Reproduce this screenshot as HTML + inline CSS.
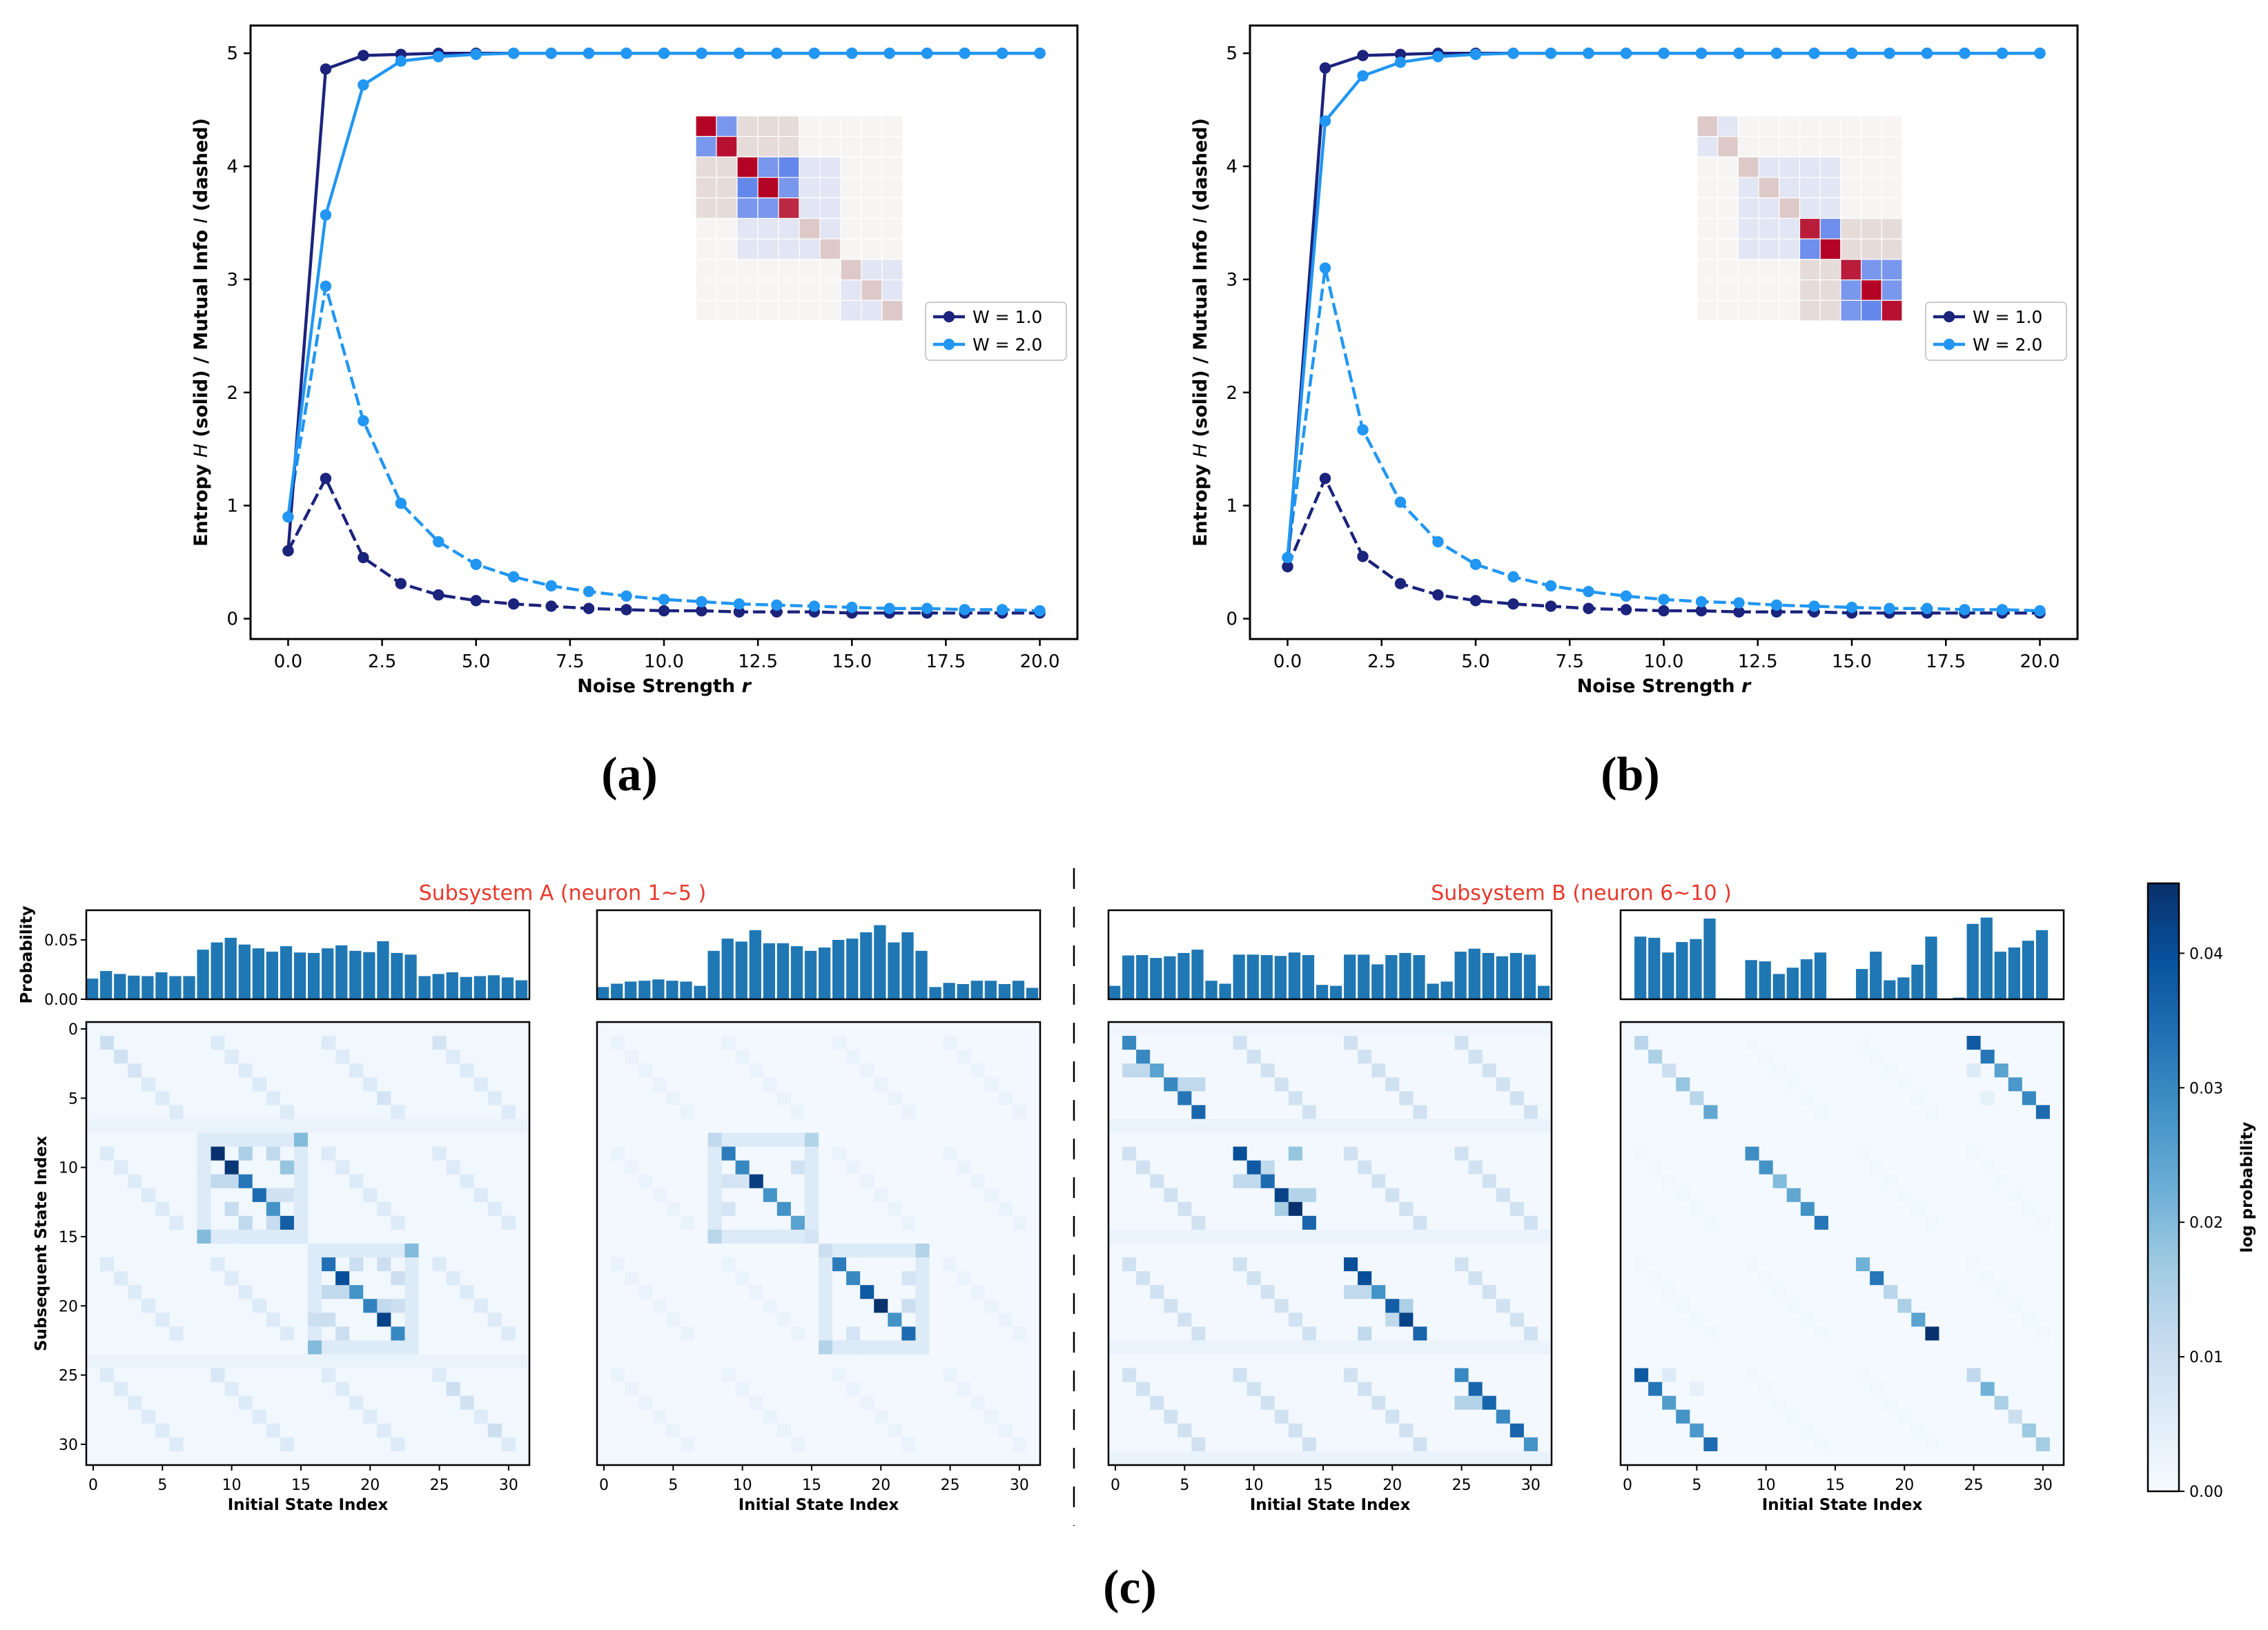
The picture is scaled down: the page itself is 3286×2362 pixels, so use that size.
<!DOCTYPE html>
<html><head><meta charset="utf-8"><style>
html,body{margin:0;padding:0;background:#fff}
svg text{font-family:"DejaVu Sans","Liberation Sans",sans-serif}
</style></head><body>
<svg id="fig" xmlns="http://www.w3.org/2000/svg" width="3286" height="2357" viewBox="0 0 3286 2357">
<rect width="3286" height="2357" fill="#fff"/>
</svg>
<script>
// ---------- Top line charts data ----------
const noiseR = [0,1,2,3,4,5,6,7,8,9,10,11,12,13,14,15,16,17,18,19,20];
const aH_W1 = [0.60,4.86,4.98,4.99,5,5,5,5,5,5,5,5,5,5,5,5,5,5,5,5,5];
const aH_W2 = [0.90,3.57,4.72,4.93,4.97,4.99,5,5,5,5,5,5,5,5,5,5,5,5,5,5,5];
const aI_W1 = [0.60,1.24,0.54,0.31,0.21,0.16,0.13,0.11,0.09,0.08,0.07,0.07,0.06,0.06,0.06,0.05,0.05,0.05,0.05,0.05,0.05];
const aI_W2 = [0.90,2.94,1.75,1.02,0.68,0.48,0.37,0.29,0.24,0.20,0.17,0.15,0.13,0.12,0.11,0.10,0.09,0.09,0.08,0.08,0.07];
const bH_W1 = [0.46,4.87,4.98,4.99,5,5,5,5,5,5,5,5,5,5,5,5,5,5,5,5,5];
const bH_W2 = [0.54,4.40,4.80,4.92,4.97,4.99,5,5,5,5,5,5,5,5,5,5,5,5,5,5,5];
const bI_W1 = [0.46,1.24,0.55,0.31,0.21,0.16,0.13,0.11,0.09,0.08,0.07,0.07,0.06,0.06,0.06,0.05,0.05,0.05,0.05,0.05,0.05];
const bI_W2 = [0.54,3.10,1.67,1.03,0.68,0.48,0.37,0.29,0.24,0.20,0.17,0.15,0.14,0.12,0.11,0.10,0.09,0.09,0.08,0.08,0.07];
const xTickVals = [0,2.5,5,7.5,10,12.5,15,17.5,20];
const xTickLabels = ["0.0","2.5","5.0","7.5","10.0","12.5","15.0","17.5","20.0"];
const yTickVals = [0,1,2,3,4,5];
const legendLabels = ["W = 1.0","W = 2.0"];
const insetA = [
 [1,-.6,.12,.12,.12,0,0,0,0,0],
 [-.6,.95,.12,.12,.12,0,0,0,0,0],
 [.12,.12,1,-.6,-.7,-.1,-.1,0,0,0],
 [.12,.12,-.7,1,-.6,-.1,-.1,0,0,0],
 [.12,.12,-.6,-.6,.85,-.1,-.1,0,0,0],
 [0,0,-.1,-.1,-.1,.2,-.1,0,0,0],
 [0,0,-.1,-.1,-.1,-.1,.2,0,0,0],
 [0,0,0,0,0,0,0,.2,-.1,-.1],
 [0,0,0,0,0,0,0,-.1,.2,-.1],
 [0,0,0,0,0,0,0,-.1,-.1,.2]];
const insetB = [
 [.2,-.1,0,0,0,0,0,0,0,0],
 [-.1,.2,0,0,0,0,0,0,0,0],
 [0,0,.2,-.1,-.1,-.1,-.1,0,0,0],
 [0,0,-.1,.2,-.1,-.1,-.1,0,0,0],
 [0,0,-.1,-.1,.2,-.1,-.1,0,0,0],
 [0,0,-.1,-.1,-.1,.9,-.65,.12,.12,.12],
 [0,0,-.1,-.1,-.1,-.65,1,.12,.12,.12],
 [0,0,0,0,0,.12,.12,.9,-.6,-.6],
 [0,0,0,0,0,.12,.12,-.6,1,-.6],
 [0,0,0,0,0,.12,.12,-.6,-.7,.95]];

// ---------- Bottom: histograms ----------
const hist1 = [0.0174,0.0238,0.0213,0.0199,0.0195,0.0227,0.0195,0.0195,0.0418,0.0479,0.0518,0.0461,0.0429,0.0401,0.0447,0.0394,0.039,0.0429,0.0454,0.0408,0.0397,0.0489,0.039,0.0376,0.0195,0.0213,0.0227,0.0188,0.0195,0.0202,0.0184,0.016];
const hist2 = [0.0103,0.0131,0.0149,0.0156,0.0167,0.0156,0.0149,0.0113,0.0408,0.0511,0.0486,0.0582,0.0472,0.0472,0.0447,0.0408,0.0436,0.05,0.0511,0.0564,0.0624,0.0479,0.0564,0.0408,0.0103,0.0138,0.0128,0.0156,0.0156,0.0128,0.0156,0.0096];
const hist3 = [0.0113,0.0369,0.0372,0.0348,0.0362,0.039,0.0418,0.0156,0.0131,0.0376,0.0376,0.0372,0.0365,0.0394,0.0372,0.0121,0.0113,0.0376,0.0376,0.0294,0.0372,0.039,0.0372,0.0131,0.0149,0.0401,0.0426,0.039,0.0362,0.039,0.0376,0.0113];
const hist4 = [0,0.0528,0.0518,0.0394,0.0482,0.0507,0.068,0.0007,0,0.033,0.0319,0.0213,0.0266,0.0337,0.0394,0,0,0.0255,0.0401,0.016,0.0184,0.0291,0.0528,0,0.0014,0.0635,0.0688,0.0401,0.0436,0.0493,0.0582,0];
const histYTicks = [0,0.05];
const histYLabels = ["0.00","0.05"];
const idxTicks = [0,5,10,15,20,25,30];
const cbTicks = [0,0.01,0.02,0.03,0.04];
const cbLabels = ["0.00","0.01","0.02","0.03","0.04"];
const base1 = 0.0015, echo1 = 0.006;
const tint1 = [[8,15,8,8,0.006],[8,8,8,15,0.006],[15,15,8,15,0.006],[8,15,15,15,0.006],[16,23,16,16,0.006],[16,16,16,23,0.006],[23,23,16,23,0.006],[16,23,23,23,0.006],[7,7,0,31,0.003],[24,24,0,31,0.003]];
const cells1 = [[9,9,.045],[10,10,.044],[11,11,.033],[12,12,.035],[13,13,.028],[14,14,.037],[9,11,.015],[9,13,.012],[10,14,.018],[11,9,.012],[11,10,.012],[13,10,.011],[14,11,.012],[14,13,.011],[12,13,.009],[12,14,.009],[8,15,.02],[15,8,.02],
 [17,17,.034],[18,18,.04],[19,19,.028],[20,20,.031],[21,21,.042],[22,22,.03],[16,23,.02],[23,16,.02],[19,17,.012],[19,18,.012],[20,21,.012],[20,22,.01],[21,16,.01],[21,17,.01],[22,18,.01],[17,19,.01],[17,21,.01],[18,22,.01],
 [1,1,.01],[2,2,.009],[3,3,.008],[26,26,.01],[27,27,.009],[29,29,.01],[1,25,.008],[5,21,.008],[25,9,.007]];
const base2 = 0.0012, echo2 = 0.003;
const tint2 = [[8,15,8,8,0.006],[8,8,8,15,0.006],[15,15,8,15,0.006],[8,15,15,15,0.006],[16,23,16,16,0.006],[16,16,16,23,0.006],[23,23,16,23,0.006],[16,23,23,23,0.006]];
const cells2 = [[9,9,.032],[10,10,.030],[11,11,.043],[12,12,.028],[13,13,.028],[14,14,.025],[8,8,.012],[8,15,.014],[15,8,.013],[15,15,.008],[10,14,.009],[11,9,.008],[11,10,.008],[13,9,.008],
 [17,17,.032],[18,18,.030],[19,19,.038],[20,20,.045],[21,21,.028],[22,22,.035],[16,16,.01],[16,23,.014],[23,16,.014],[20,22,.01],[18,22,.008],[22,18,.008]];
const base3 = 0.0012, echo3 = 0.009;
const tint3 = [[7,7,0,31,0.003],[15,15,0,31,0.003],[23,23,0,31,0.003],[31,31,0,31,0.003],[0,0,0,31,0.002]];
const cells3 = [[1,1,.030],[2,2,.030],[3,3,.025],[4,4,.030],[5,5,.033],[6,6,.036],[9,9,.040],[10,10,.038],[11,11,.035],[12,12,.042],[13,13,.045],[14,14,.036],
 [17,17,.040],[18,18,.040],[19,19,.028],[20,20,.037],[21,21,.042],[22,22,.036],[25,25,.030],[26,26,.036],[27,27,.036],[28,28,.030],[29,29,.036],[30,30,.028],
 [9,13,.018],[12,13,.014],[12,14,.014],[13,12,.016],[10,11,.012],[11,9,.012],[11,10,.012],[19,17,.012],[19,18,.012],[20,21,.015],[21,20,.012],[22,18,.012],[27,25,.014],[27,26,.014],[3,1,.012],[3,2,.012],[4,5,.012],[4,6,.012]];
const base4 = 0.0008, echo4 = 0.0015;
const tint4 = [];
const cells4 = [[1,1,.013],[2,2,.015],[3,3,.010],[4,4,.018],[5,5,.013],[6,6,.024],[1,25,.038],[2,26,.033],[3,27,.025],[4,28,.027],[5,29,.030],[6,30,.035],
 [9,9,.029],[10,10,.028],[11,11,.020],[12,12,.024],[13,13,.028],[14,14,.033],[17,17,.022],[18,18,.033],[19,19,.013],[20,20,.015],[21,21,.025],[22,22,.045],
 [25,1,.038],[26,2,.033],[27,3,.026],[28,4,.028],[29,5,.027],[30,6,.035],[25,25,.012],[26,26,.022],[27,27,.015],[28,28,.010],[29,29,.017],[30,30,.016],
 [3,25,.006],[5,26,.004],[25,3,.006],[26,5,.004]];

const NS = "http://www.w3.org/2000/svg";
const svg = document.getElementById('fig');
function mk(tag, attrs, parent){ const e=document.createElementNS(NS,tag); for(const k in attrs) e.setAttribute(k,attrs[k]); (parent||svg).appendChild(e); return e; }
function txt(s, attrs, parent){ const e=mk('text',attrs,parent); e.textContent=s; return e; }

const DARK = "#1b237c", LIGHT = "#2196f3";
function coolwarm(v){
  const neu=[247,245,244];
  let c;
  if(v>=0){ const t=v; const r=[180,4,38]; const tan=[224,214,210];
    if(t<=0.15){ const u=t/0.15; c=neu.map((n,i)=>n+(tan[i]-n)*u); }
    else { const u=(t-0.15)/0.85; c=tan.map((n,i)=>n+(r[i]-n)*u); } }
  else { const t=-v; const b=[100,135,235];
    c=neu.map((n,i)=>n+(b[i]-n)*Math.min(1,t/0.7)); }
  return `rgb(${c.map(Math.round).join(',')})`;
}
function lineChart(opts){
  const g = mk('g',{});
  
  
  const L=opts.left, R=opts.right, T=37, B=926;
  const xmin=-1, xmax=21, ymin=-0.18, ymax=5.245;
  const X=v=>L+(v-xmin)/(xmax-xmin)*(R-L);
  const Y=v=>B-(v-ymin)/(ymax-ymin)*(B-T);
  const ins = mk('g',{},g);
  
  
  const cw=(opts.insetR-opts.insetL)/10, ch=(465-168)/10;
  opts.inset.forEach((row,i)=>row.forEach((v,j)=>{
    const r=mk('rect',{x:opts.insetL+j*cw,y:168+i*ch,width:cw,height:ch,fill:coolwarm(v),stroke:'#fff','stroke-width':1.2},ins);
    
    
  }));
  const series=[[opts.H1,DARK,null,'entropy-w1'],[opts.H2,LIGHT,null,'entropy-w2'],[opts.I1,DARK,'18,7','mutual-info-w1'],[opts.I2,LIGHT,'18,7','mutual-info-w2']];
  const order=[2,3,0,1];
  order.forEach(k=>{
    const [d,col,dash,nm]=series[k];
    const sg=mk('g',{},g);
    
    
    const pts=d.map((v,i)=>X(noiseR[i])+','+Y(v)).join(' ');
    const pl=mk('polyline',{points:pts,fill:'none',stroke:col,'stroke-width':4.4,'stroke-linejoin':'round'},sg);
    if(dash) pl.setAttribute('stroke-dasharray',dash);
    
    
    d.forEach((v,i)=>{ const c=mk('circle',{cx:X(noiseR[i]),cy:Y(v),r:8.2,fill:col},sg);
      
       });
  });
  const fr=mk('rect',{x:L,y:T,width:R-L,height:B-T,fill:'none',stroke:'#000','stroke-width':3},g);
   
  xTickVals.forEach((v,i)=>{ mk('line',{x1:X(v),x2:X(v),y1:B,y2:B+10,stroke:'#000','stroke-width':2.5},g);
    const t=txt(xTickLabels[i],{x:X(v),y:967,'text-anchor':'middle','font-size':26},g);
      });
  yTickVals.forEach(v=>{ mk('line',{x1:L-10,x2:L,y1:Y(v),y2:Y(v),stroke:'#000','stroke-width':2.5},g);
    const t=txt(String(v),{x:L-18,y:Y(v)+9,'text-anchor':'end','font-size':26},g);
      });
  const xl=txt('',{x:(L+R)/2,y:1003,'text-anchor':'middle','font-size':27,'font-weight':'bold'},g);
  xl.innerHTML='Noise Strength <tspan font-style="italic">r</tspan>';
   
  const yl=txt('',{x:0,y:0,'text-anchor':'middle','font-size':27,'font-weight':'bold',transform:`translate(${opts.ylx},${(T+B)/2}) rotate(-90)`},g);
  yl.innerHTML='Entropy <tspan font-style="italic" font-weight="normal">H</tspan> (solid) / Mutual Info <tspan font-style="italic" font-weight="normal">I</tspan> (dashed)';
   
  const lg=mk('g',{},g);
   
  mk('rect',{x:opts.legL,y:438,width:204,height:84,rx:6,fill:'#fff','fill-opacity':0.8,stroke:'#cccccc','stroke-width':2},lg);
  [DARK,LIGHT].forEach((col,i)=>{
    const yy=459+i*40;
    const e=mk('g',{},lg);
     
    mk('line',{x1:opts.legL+11,x2:opts.legL+57,y1:yy,y2:yy,stroke:col,'stroke-width':4.4},e);
    mk('circle',{cx:opts.legL+34,cy:yy,r:8.2,fill:col},e);
    txt(legendLabels[i],{x:opts.legL+68,y:yy+9,'font-size':25},e);
  });
}
lineChart({name:'panel-a-chart',left:363,right:1561,inset:insetA,insetL:1008,insetR:1308,H1:aH_W1,H2:aH_W2,I1:aI_W1,I2:aI_W2,ylx:300,legL:1341});
lineChart({name:'panel-b-chart',left:1811,right:3010,inset:insetB,insetL:2459,insetR:2756,H1:bH_W1,H2:bH_W2,I1:bI_W1,I2:bI_W2,ylx:1748,legL:2790});

function serifLabel(s,x,y,nm){ const t=txt(s,{x:x,y:y,'text-anchor':'middle','font-size':70,'font-weight':'bold',style:'font-family:"Liberation Serif",serif'});   }
serifLabel('(a)',912,1145,'panel-label-a');
serifLabel('(b)',2362,1145,'panel-label-b');
serifLabel('(c)',1637,2323,'panel-label-c');

const BL=[[247,251,255],[222,235,247],[198,219,239],[158,202,225],[107,174,214],[66,146,198],[33,113,181],[8,81,156],[8,48,107]];
const VMAX=0.0452;
function blues(v){ let t=Math.max(0,Math.min(1,v/VMAX))*8; const i=Math.min(7,Math.floor(t)); const u=t-i;
  return `rgb(${BL[i].map((a,k)=>Math.round(a+(BL[i+1][k]-a)*u)).join(',')})`; }
const HT=1319, HB=1448, MT=1481, MB=2123;
const hyScale=(HB-HT)/0.075;
function panel(L, hist, base, echo, tint, cells, nm, showY){
  const W=642, cw=W/32, chh=(MB-MT)/32;
  const g=mk('g',{});
   
  const hg=mk('g',{},g);
   
  hist.forEach((v,i)=>{ const h=v*hyScale; const r=mk('rect',{x:L+i*cw,y:HB-h,width:cw*0.86,height:h,fill:'#1f77b4'},hg);
      });
  mk('rect',{x:L,y:HT,width:W,height:HB-HT,fill:'none',stroke:'#000','stroke-width':2.5},hg);
  if(showY){ histYTicks.forEach((v,i)=>{ const y=HB-v*hyScale; mk('line',{x1:L-8,x2:L,y1:y,y2:y,stroke:'#000','stroke-width':2},hg);
    txt(histYLabels[i],{x:L-12,y:y+8,'text-anchor':'end','font-size':22},hg); }); }
  const M=[]; for(let r=0;r<32;r++){ M.push(new Array(32).fill(base)); }
  for(let r=0;r<32;r++) for(let c=0;c<32;c++) if(((c-r)%8+8)%8===0 && r%8!==0 && r%8!==7) M[r][c]=echo;
  tint.forEach(([r0,r1,c0,c1,v])=>{ for(let r=r0;r<=r1;r++) for(let c=c0;c<=c1;c++) M[r][c]=Math.max(M[r][c],v); });
  cells.forEach(([r,c,v])=>{ M[r][c]=v; });
  const mg=mk('g',{},g);
   
  M.forEach((row,r)=>row.forEach((v,c)=>{ const e=mk('rect',{x:L+c*cw,y:MT+r*chh,width:cw+0.6,height:chh+0.6,fill:blues(v)},mg);
      }));
  mk('rect',{x:L,y:MT,width:W,height:MB-MT,fill:'none',stroke:'#000','stroke-width':2.5},mg);
  idxTicks.forEach(v=>{ const x=L+(v+0.5)*cw; mk('line',{x1:x,x2:x,y1:MB,y2:MB+8,stroke:'#000','stroke-width':2},mg);
    const t=txt(String(v),{x:x,y:2159,'text-anchor':'middle','font-size':22},mg);   });
  if(showY){ idxTicks.forEach(v=>{ const y=MT+(v+0.5)*chh; mk('line',{x1:L-8,x2:L,y1:y,y2:y,stroke:'#000','stroke-width':2},mg);
    txt(String(v),{x:L-12,y:y+8,'text-anchor':'end','font-size':22},mg); }); }
  const xl=txt('Initial State Index',{x:L+W/2,y:2188,'text-anchor':'middle','font-size':23,'font-weight':'bold'},g);
   
}
panel(125,hist1,base1,echo1,tint1,cells1,'subsystem-a-panel-1',true);
panel(865,hist2,base2,echo2,tint2,cells2,'subsystem-a-panel-2',false);
panel(1606,hist3,base3,echo3,tint3,cells3,'subsystem-b-panel-1',false);
panel(2348,hist4,base4,echo4,tint4,cells4,'subsystem-b-panel-2',false);

let t;
t=txt('Probability',{x:0,y:0,'text-anchor':'middle','font-size':23,'font-weight':'bold',transform:`translate(46,${(HT+HB)/2}) rotate(-90)`});  
t=txt('Subsequent State Index',{x:0,y:0,'text-anchor':'middle','font-size':23,'font-weight':'bold',transform:`translate(67,${(MT+MB)/2}) rotate(-90)`});  
t=txt('Subsystem A (neuron 1~5 )',{x:815,y:1304,'text-anchor':'middle','font-size':30,fill:'#e8382c'});  
t=txt('Subsystem B (neuron 6~10 )',{x:2291,y:1304,'text-anchor':'middle','font-size':30,fill:'#e8382c'});  
const sep=mk('line',{x1:1556,x2:1556,y1:1258,y2:2211,stroke:'#000','stroke-width':2.5,'stroke-dasharray':'30,26'});
 

const CT=1280, CBt=2161, CL=3112, CR=3157;
const defs=mk('defs',{});
const lgd=mk('linearGradient',{id:'cbg',x1:0,y1:1,x2:0,y2:0},defs);
BL.forEach((c,i)=>mk('stop',{offset:(i/8),'stop-color':`rgb(${c.join(',')})`},lgd));
const cb=mk('g',{});
 
mk('rect',{x:CL,y:CT,width:CR-CL,height:CBt-CT,fill:'url(#cbg)',stroke:'#000','stroke-width':2.5},cb);
cbTicks.forEach((v,i)=>{ const y=CBt-v/VMAX*(CBt-CT); mk('line',{x1:CR,x2:CR+8,y1:y,y2:y,stroke:'#000','stroke-width':2},cb);
  txt(cbLabels[i],{x:CR+15,y:y+8,'font-size':22},cb); });
t=txt('log probability',{x:0,y:0,'text-anchor':'middle','font-size':23,'font-weight':'bold',transform:`translate(3263,${(CT+CBt)/2}) rotate(-90)`},cb);
 
</script>
</body></html>
